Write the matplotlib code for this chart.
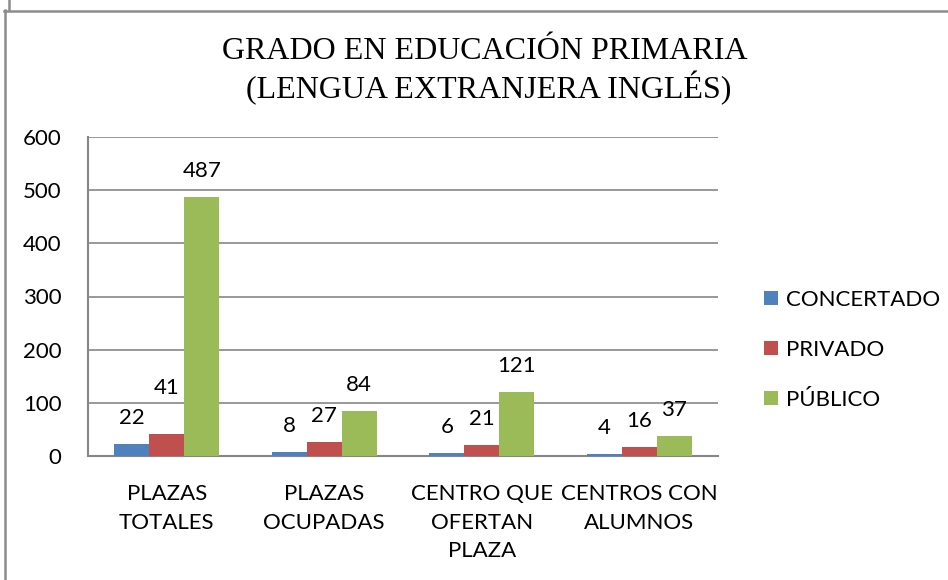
import numpy as np
import matplotlib
matplotlib.use('Agg')
import matplotlib.pyplot as plt
from matplotlib.patches import Patch
from matplotlib.lines import Line2D

categories = ["PLAZAS\nTOTALES", "PLAZAS\nOCUPADAS", "CENTRO QUE\nOFERTAN\nPLAZA", "CENTROS CON\nALUMNOS"]
series = ["CONCERTADO", "PRIVADO", "PÚBLICO"]
concertado = [22, 8, 6, 4]
privado = [41, 27, 21, 16]
publico = [487, 84, 121, 37]
title = "GRADO EN EDUCACIÓN PRIMARIA\n (LENGUA EXTRANJERA INGLÉS)"

colors = ["#4F81BD", "#C0504D", "#9BBB59"]
grid_col = "#868686"
W, H = 948, 580
fs = 16
sans = ['Lato', 'DejaVu Sans']

fig = plt.figure(figsize=(W/100, H/100), dpi=100)
ax = fig.add_axes([88/W, (H-456)/H, 630/W, 319/H])

x = np.arange(len(categories))
bw = 0.222
values = [concertado, privado, publico]
for k, (name, vals) in enumerate(zip(series, values)):
    pos = x + (k-1)*bw
    ax.bar(pos, vals, bw, color=colors[k], edgecolor='none', zorder=3, label=name)
    for i, v in enumerate(vals):
        lift = 20 if (i, k) == (0, 1) else 0   # the "41" label sits higher
        ax.annotate(str(v), (pos[i], v), xytext=(0, (26+lift)*0.72),
                    textcoords='offset points', ha='center', va='center',
                    fontsize=fs, family=sans, color='black', zorder=4)

ax.set_xlim(-0.5, len(categories)-0.5)
ax.set_ylim(0, 600)
ax.set_yticks(range(0, 601, 100))
ax.set_xticks(x)
ax.set_xticklabels(categories, fontsize=fs, family=sans, linespacing=1.55)
for lab in ax.get_yticklabels():
    lab.set_fontsize(fs)
    lab.set_family(sans)
ax.tick_params(axis='both', length=0)
ax.tick_params(axis='y', pad=19)
ax.tick_params(axis='x', pad=20)
ax.yaxis.grid(True, color=grid_col, linewidth=1.2, zorder=0)
for s in ['top', 'right']:
    ax.spines[s].set_visible(False)
for s in ['left', 'bottom']:
    ax.spines[s].set_color(grid_col)
    ax.spines[s].set_linewidth(1.5)

fig.text(485/W, 1-71/H, title, ha='center', va='center', fontsize=23,
         family='Liberation Serif', linespacing=1.2)

handles = [Patch(facecolor=c, edgecolor='none') for c in colors]
fig.legend(handles, series, loc='center left', bbox_to_anchor=(744/W, 1-350/H),
           frameon=False, prop={'family': sans, 'size': fs},
           handlelength=0.62, handleheight=0.62, handletextpad=0.35, labelspacing=1.35)

# page frame
fcol = "#8c8c8c"
fig.add_artist(Line2D([4.5/W, 4.5/W], [0, 1-10/H], color=fcol, lw=1.8, transform=fig.transFigure))
fig.add_artist(Line2D([4/W, 1], [1-10.5/H, 1-10.5/H], color=fcol, lw=1.8, transform=fig.transFigure))
fig.add_artist(Line2D([8.5/W, 8.5/W], [1-10/H, 1], color=fcol, lw=1.8, transform=fig.transFigure))

plt.savefig("out.png", dpi=100)
plt.close()
